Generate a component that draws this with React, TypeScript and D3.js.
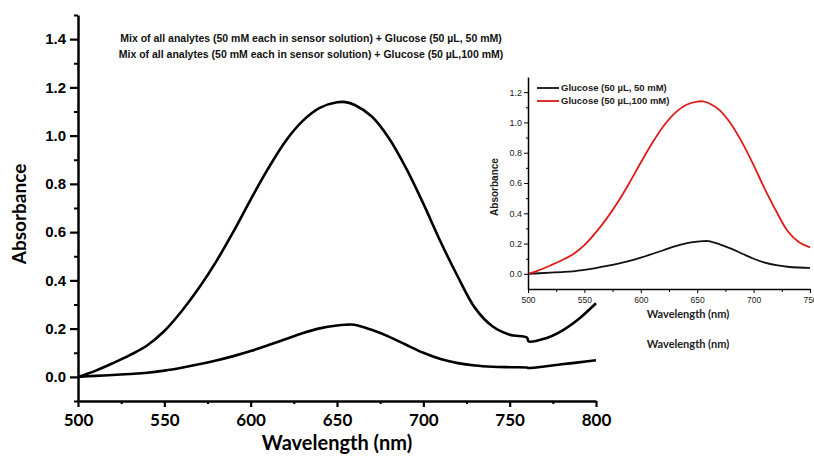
import React, { useEffect, useRef } from 'react'
import * as d3 from 'd3'

// wavelength (nm) and absorbance
const wavelength = [
  500, 510, 520, 530, 540, 550, 560, 570, 580, 590, 600, 610, 620, 630, 640, 650, 655, 660, 670,
  680, 690, 700, 710, 720, 730, 740, 750, 760, 761, 770, 780, 790, 800,
]
const glucose50 = [
  0, 0.004, 0.008, 0.012, 0.017, 0.026, 0.038, 0.052, 0.068, 0.086, 0.107, 0.131, 0.156, 0.181,
  0.201, 0.213, 0.216, 0.216, 0.195, 0.167, 0.133, 0.1, 0.074, 0.057, 0.047, 0.042, 0.04, 0.039,
  0.037, 0.043, 0.052, 0.06, 0.069,
]
const glucose100 = [
  0, 0.025, 0.056, 0.09, 0.13, 0.19, 0.272, 0.368, 0.478, 0.602, 0.735, 0.862, 0.975, 1.06, 1.115,
  1.138, 1.139, 1.128, 1.08, 0.99, 0.865, 0.718, 0.56, 0.415, 0.285, 0.21, 0.175, 0.163, 0.147,
  0.158, 0.19, 0.24, 0.305,
]

const xTicks = [500, 550, 600, 650, 700, 750, 800]
const xMinor = [525, 575, 625, 675, 725, 775]
const yTicks = [0, 0.2, 0.4, 0.6, 0.8, 1.0, 1.2, 1.4]
const yMinor = [-0.1, 0.1, 0.3, 0.5, 0.7, 0.9, 1.1, 1.3, 1.5]

const legendLines = [
  'Mix of all analytes (50 mM each in sensor solution) + Glucose (50 µL, 50 mM)',
  'Mix of all analytes (50 mM each in sensor solution) + Glucose (50 µL,100 mM)',
]

const insetLegend = ['Glucose (50 µL, 50 mM)', 'Glucose (50 µL,100 mM)']
const insetColors = ['#111111', '#dd1c1a']
const insetXTicks = [500, 550, 600, 650, 700, 750]
const insetXMinor = [525, 575, 625, 675, 725]
const insetYTicks = [0, 0.2, 0.4, 0.6, 0.8, 1.0, 1.2]
const insetYMinor = [0.1, 0.3, 0.5, 0.7, 0.9, 1.1]

type Row = { w: number; a: number; b: number }

const App = () => {
  const svgRef = useRef<SVGSVGElement | null>(null)

  useEffect(() => {
    const svg = d3.select(svgRef.current)
    svg.selectAll('*').remove()

    const width = 814
    const height = 457
    svg.attr('width', width).attr('height', height)
    svg.append('rect').attr('width', width).attr('height', height).attr('fill', '#fff')

    const rows: Row[] = wavelength.map((w, i) => ({ w, a: glucose50[i], b: glucose100[i] }))

    // ---- main chart
    const x = d3.scaleLinear().domain([500, 800]).range([78, 596])
    const y = d3.scaleLinear().domain([-0.1, 1.5]).range([401, 15])

    const main = svg.append('g')

    const yAx = main
      .append('g')
      .attr('transform', `translate(${x(500)},0)`)
      .call(
        d3
          .axisLeft(y)
          .tickValues(yTicks)
          .tickSize(8)
          .tickSizeOuter(0)
          .tickFormat(d3.format('.1f'))
      )
    yAx.select('.domain').attr('stroke', '#000').attr('stroke-width', 2.5)
    yAx.selectAll('line').attr('stroke', '#000').attr('stroke-width', 2.2)
    yAx
      .selectAll('text')
      .attr('x', -12)
      .style('font-family', '"Liberation Sans", Arial, sans-serif')
      .style('font-weight', 'bold')
      .style('font-size', '15px')
      .style('fill', '#000')

    const yMin = main
      .append('g')
      .attr('transform', `translate(${x(500)},0)`)
      .call(d3.axisLeft(y).tickValues(yMinor).tickSize(4).tickFormat(() => ''))
    yMin.select('.domain').remove()
    yMin.selectAll('line').attr('stroke', '#000').attr('stroke-width', 2)

    const xAx = main
      .append('g')
      .attr('transform', `translate(0,${y(-0.1)})`)
      .call(d3.axisBottom(x).tickValues(xTicks).tickSize(6).tickSizeOuter(0))
    xAx.select('.domain').attr('stroke', '#000').attr('stroke-width', 2.5)
    xAx.selectAll('line').attr('stroke', '#000').attr('stroke-width', 2.2)
    xAx
      .selectAll('text')
      .attr('y', 25)
      .attr('dy', 0)
      .style('font-family', 'Lato, "Open Sans", sans-serif')
      .style('font-weight', 'bold')
      .style('font-size', '17px')
      .style('fill', '#000')

    const xMin = main
      .append('g')
      .attr('transform', `translate(0,${y(-0.1)})`)
      .call(d3.axisBottom(x).tickValues(xMinor).tickSize(3).tickFormat(() => ''))
    xMin.select('.domain').remove()
    xMin.selectAll('line').attr('stroke', '#000').attr('stroke-width', 2)

    main
      .append('text')
      .attr('x', (x(500) + x(800)) / 2)
      .attr('y', 450)
      .attr('text-anchor', 'middle')
      .style('font-family', 'Lato, "Open Sans", sans-serif')
      .style('font-weight', 'bold')
      .style('font-size', '20px')
      .text('Wavelength (nm)')

    main
      .append('text')
      .attr('transform', `translate(26,${(y(-0.1) + y(1.5)) / 2 + 6}) rotate(-90)`)
      .attr('text-anchor', 'middle')
      .style('font-family', 'Lato, "Open Sans", sans-serif')
      .style('font-weight', 'bold')
      .style('font-size', '19px')
      .text('Absorbance')

    ;(['a', 'b'] as const).forEach((k) => {
      main
        .append('path')
        .datum(rows)
        .attr(
          'd',
          d3
            .line<Row>()
            .x((d) => x(d.w))
            .y((d) => y(d[k]))
            .curve(d3.curveCatmullRom.alpha(0.5))
        )
        .attr('fill', 'none')
        .attr('stroke', '#000')
        .attr('stroke-width', 2.6)
    })

    legendLines.forEach((t, i) => {
      main
        .append('text')
        .attr('x', 311)
        .attr('y', 42 + i * 16)
        .attr('text-anchor', 'middle')
        .style('font-family', '"Liberation Sans", Arial, sans-serif')
        .style('font-weight', 'bold')
        .style('font-size', '10.5px')
        .style('fill', '#111')
        .text(t)
    })

    // ---- inset
    const ix = d3.scaleLinear().domain([500, 750]).range([528, 810])
    const iy = d3.scaleLinear().domain([-0.1, 1.3]).range([289, 77])
    const inset = svg.append('g')
    const insetRows = rows.filter((d) => d.w <= 750)

    ;(['a', 'b'] as const).forEach((k, i) => {
      inset
        .append('path')
        .datum(insetRows)
        .attr(
          'd',
          d3
            .line<Row>()
            .x((d) => ix(d.w))
            .y((d) => iy(d[k]))
            .curve(d3.curveCatmullRom.alpha(0.5))
        )
        .attr('fill', 'none')
        .attr('stroke', insetColors[i])
        .attr('stroke-width', 1.8)
    })

    const iyAx = inset
      .append('g')
      .attr('transform', `translate(${ix(500)},0)`)
      .call(
        d3
          .axisLeft(iy)
          .tickValues(insetYTicks)
          .tickSize(4)
          .tickSizeOuter(0)
          .tickFormat(d3.format('.1f'))
      )
    iyAx.select('.domain').attr('stroke', '#000').attr('stroke-width', 1.5)
    iyAx.selectAll('line').attr('stroke', '#000').attr('stroke-width', 1)
    iyAx
      .selectAll('text')
      .attr('x', -6)
      .style('font-family', '"Liberation Sans", Arial, sans-serif')
      .style('font-size', '9px')
      .style('fill', '#222')

    const iyMin = inset
      .append('g')
      .attr('transform', `translate(${ix(500)},0)`)
      .call(d3.axisLeft(iy).tickValues(insetYMinor).tickSize(2).tickFormat(() => ''))
    iyMin.select('.domain').remove()
    iyMin.selectAll('line').attr('stroke', '#000').attr('stroke-width', 1)

    const ixAx = inset
      .append('g')
      .attr('transform', `translate(0,${iy(-0.1)})`)
      .call(d3.axisBottom(ix).tickValues(insetXTicks).tickSize(4).tickSizeOuter(0))
    ixAx.select('.domain').attr('stroke', '#000').attr('stroke-width', 1.5)
    ixAx.selectAll('line').attr('stroke', '#000').attr('stroke-width', 1)
    ixAx
      .selectAll('text')
      .attr('y', 8)
      .attr('dy', '0.71em')
      .style('font-family', '"Liberation Sans", Arial, sans-serif')
      .style('font-size', '8.5px')
      .style('fill', '#222')

    const ixMin = inset
      .append('g')
      .attr('transform', `translate(0,${iy(-0.1)})`)
      .call(d3.axisBottom(ix).tickValues(insetXMinor).tickSize(3).tickFormat(() => ''))
    ixMin.select('.domain').remove()
    ixMin.selectAll('line').attr('stroke', '#000').attr('stroke-width', 1)

    inset
      .append('text')
      .attr('transform', `translate(498,${(iy(-0.1) + iy(1.3)) / 2 + 4}) rotate(-90)`)
      .attr('text-anchor', 'middle')
      .style('font-family', '"Liberation Sans", Arial, sans-serif')
      .style('font-weight', 'bold')
      .style('font-size', '10px')
      .style('fill', '#222')
      .text('Absorbance')

    ;[318, 348].forEach((yy) => {
      inset
        .append('text')
        .attr('x', 688)
        .attr('y', yy)
        .attr('text-anchor', 'middle')
        .style('font-family', 'Lato, "Open Sans", sans-serif')
        .style('font-weight', 'bold')
        .style('font-size', '11px')
        .style('fill', '#222')
        .text('Wavelength (nm)')
    })

    insetLegend.forEach((t, i) => {
      const ly = 88 + i * 13
      inset
        .append('line')
        .attr('x1', 537)
        .attr('x2', 559)
        .attr('y1', ly)
        .attr('y2', ly)
        .attr('stroke', insetColors[i])
        .attr('stroke-width', 1.8)
      inset
        .append('text')
        .attr('x', 561)
        .attr('y', ly + 3)
        .style('font-family', '"Liberation Sans", Arial, sans-serif')
        .style('font-weight', 'bold')
        .style('font-size', '9.5px')
        .style('fill', '#222')
        .text(t)
    })
  }, [])

  return (
    <svg
      ref={svgRef}
      style={{ position: 'absolute', left: 0, top: 0, display: 'block' }}
    />
  )
}

export default App
